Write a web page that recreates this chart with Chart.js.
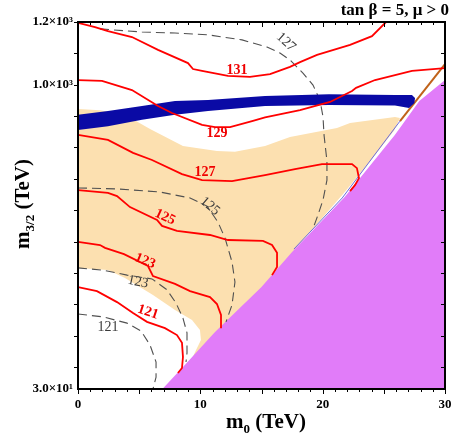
<!DOCTYPE html>
<html><head><meta charset="utf-8">
<script src="https://cdn.jsdelivr.net/npm/chart.js@4.4.1/dist/chart.umd.min.js"></script>
<style>html,body{margin:0;padding:0;background:#fff;}#wrap{width:453px;height:436px;}</style>
</head><body><div id="wrap"><canvas id="c" width="453" height="436"></canvas></div>
<script>
// ---- axis ticks ----
const xTickValues = [0, 10, 20, 30];
const xTickLabels = ['0', '10', '20', '30'];
const yTickValues = [30, 1000, 1200];
const yTickLabels = ['3.0×10¹', '1.0×10³', '1.2×10³'];
const yTickMarks = [100, 200, 300, 400, 500, 600, 700, 800, 900, 1000, 1100, 1200];

// ---- regions (m0 [TeV], m3/2) ----
const pinkEdge = [[6.9,30],[8.75,107],[11.2,212],[15.0,355],[17.5,467],[21.8,642],[25.9,840],[27.9,948],[30,1015],[30,30]];
const orangeRegion = [[0,923],[1.8,919],[3.84,904],[5.89,859],[8.58,805],[11.36,789],[12.83,786],[15.29,805],[17.33,833],[21.17,862],[22.24,878],[25.91,897],[26.32,894],[25.83,853],[23.95,760],[21.74,655],[17.98,486],[16.51,409],[9.97,30],[0,30]];
const whiteRegion = [[0,416],[2.45,409],[3.84,384],[6.13,330],[7.93,282],[9.32,250],[9.97,218],[10.05,186],[9.65,154],[9.2,116],[7.93,30],[0,30]];
const blueBand = [[0,904],[2.45,916],[5.23,932],[7.93,948],[10.63,951],[15.29,964],[20.52,970],[25.91,967],[27.3,967],[27.55,958],[27.5,942],[27.06,926],[25.91,934],[20.52,935],[15.29,932],[10.63,916],[7.93,904],[5.23,888],[2.45,868],[0,856]];
const brownLine = [[26.32,884],[30,1066]];
const thinBlue = [[26.32,884],[21.6,639],[17.65,476]];

// ---- red contours ----
const red131 = [[0,1197],[1.39,1184],[2.45,1171],[4.41,1152],[6.54,1111],[8.99,1069],[9.40,1050],[10.14,1044],[12.26,1028],[14.06,1025],[15.70,1034],[17.33,1057],[18.15,1072],[19.54,1095],[22.24,1127],[24.03,1155],[25.18,1200]];
const red129 = [[0,1015],[1.96,1012],[4.41,983],[6.54,932],[7.68,910],[10.14,872],[11.2,865],[12.43,865],[14.23,884],[15.29,896],[18.15,919],[20.6,945],[22.4,980],[22.73,990],[24.28,1015],[27.3,1044],[30,1053]];
const red127 = [[0,840],[2.45,824],[4.5,783],[6.05,760],[8.5,715],[10.14,696],[12.59,693],[15.29,712],[17.74,731],[19.95,747],[22.4,747],[22.8,734],[22.97,702],[22.64,680],[22.24,661]];
const red125 = [[0,664],[2.45,655],[3.19,645],[4.25,610],[6.46,569],[6.87,550],[8.09,534],[10.79,521],[12.26,505],[15.12,502],[15.86,489],[16.27,464],[16.27,419],[15.86,393]];
const red123 = [[0,499],[1.80,489],[2.21,480],[3.76,460],[5.72,422],[6.13,390],[7.93,365],[9.16,342],[10.79,323],[11.36,301],[11.69,266],[11.69,224]];
const red121 = [[0,355],[1.55,342],[3.19,307],[4.50,272],[5.64,244],[7.11,224],[8.09,202],[8.50,177],[8.58,132],[8.50,97],[8.17,81]];

// ---- gray dashed contours ----
const gray127 = [[1.80,1178],[5.23,1168],[7.93,1165],[10.63,1159],[13.41,1143],[15.45,1120],[16.51,1101],[17.33,1079],[18.39,1037],[19.21,999],[19.78,951],[20.03,897],[20.11,840],[20.35,757],[20.35,696],[20.03,633],[19.62,585],[19.29,550]];
const gray125 = [[0,671],[3.19,668],[6.70,658],[9.16,639],[10.55,613],[11.44,562],[12.02,511],[12.59,435],[12.83,371],[12.59,298],[12.10,244]];
const gray123 = [[0,416],[2.04,409],[4.01,393],[6.05,381],[7.28,346],[8.01,304],[8.58,256],[8.91,209],[8.91,145],[8.83,116]];
const gray121 = [[0,269],[2.04,260],[4.01,240],[5.15,215],[5.89,170],[6.38,116],[6.38,68],[6.13,30]];

const contourLabels = [
  {text:'131', x:13.0, y:1047, angle:0, kind:'red'},
  {text:'129', x:11.36, y:846, angle:0, kind:'red'},
  {text:'127', x:10.38, y:722, angle:0, kind:'red'},
  {text:'125', x:7.11, y:578, angle:25, kind:'red'},
  {text:'123', x:5.48, y:438, angle:22, kind:'red'},
  {text:'121', x:5.72, y:275, angle:18, kind:'red'},
  {text:'127', x:17.0, y:1136, angle:42, kind:'gray'},
  {text:'125', x:10.79, y:613, angle:40, kind:'gray'},
  {text:'123', x:4.90, y:371, angle:12, kind:'gray'},
  {text:'121', x:2.45, y:228, angle:0, kind:'gray'}
];

const pts = a => a.map(p => ({x:p[0], y:p[1]}));
const SERIF = '"Liberation Serif", "Times New Roman", serif';

function lineDs(arr, color, width, dash) {
  return {data: pts(arr), showLine:true, borderColor:color, borderWidth:width, borderDash:dash||[], fill:false, pointRadius:0, clip:0};
}
function polyDs(arr, color) {
  return {data: pts(arr), showLine:true, borderColor:'transparent', borderWidth:0, backgroundColor:color, fill:'shape', pointRadius:0, clip:0};
}

const RED = '#ff0000', GRAY = '#505050';
const datasets = [
  lineDs(red131, RED, 1.8), lineDs(red129, RED, 1.8), lineDs(red127, RED, 1.8),
  lineDs(red125, RED, 1.8), lineDs(red123, RED, 1.8), lineDs(red121, RED, 1.8),
  polyDs(blueBand, '#0a0aa5'),
  lineDs(gray127, GRAY, 1.1, [9,5]), lineDs(gray125, GRAY, 1.1, [9,5]),
  lineDs(gray123, GRAY, 1.1, [9,5]), lineDs(gray121, GRAY, 1.1, [9,5]),
  lineDs(brownLine, '#c0621a', 2),
  lineDs(thinBlue, '#6a6ad8', 1),
  polyDs(pinkEdge, '#e17cf9'),
  polyDs(whiteRegion, '#ffffff'),
  polyDs(orangeRegion, '#fce0b0')
];

function drawSub(ctx, parts, x, y) {
  let w = 0;
  for (const p of parts) { ctx.font = 'bold ' + p[1] + 'px ' + SERIF; w += ctx.measureText(p[0]).width; }
  let cx = x - w/2;
  for (const p of parts) {
    ctx.font = 'bold ' + p[1] + 'px ' + SERIF;
    ctx.fillText(p[0], cx, y + p[2]);
    cx += ctx.measureText(p[0]).width;
  }
}

const decor = {
  id: 'decor',
  afterDraw(chart) {
    const ctx = chart.ctx, xs = chart.scales.x, ys = chart.scales.y, a = chart.chartArea;
    ctx.save();
    // contour labels
    ctx.textAlign = 'center'; ctx.textBaseline = 'middle';
    for (const l of contourLabels) {
      const px = xs.getPixelForValue(l.x), py = ys.getPixelForValue(l.y);
      ctx.save();
      ctx.translate(px, py); ctx.rotate(l.angle*Math.PI/180);
      if (l.kind === 'red') { ctx.fillStyle = '#f00000'; ctx.font = 'bold 14px ' + SERIF; }
      else { ctx.fillStyle = '#3a3a3a'; ctx.font = '14px ' + SERIF; }
      ctx.fillText(l.text, 0, 0);
      ctx.restore();
    }
    // tick marks
    ctx.strokeStyle = '#000'; ctx.lineWidth = 1;
    ctx.beginPath();
    for (let v = 0; v <= 30; v++) {
      const px = Math.round(xs.getPixelForValue(v)) + 0.5;
      const len = (v % 5 === 0) ? 5 : 3;
      ctx.moveTo(px, a.bottom); ctx.lineTo(px, a.bottom + len);
      ctx.moveTo(px, a.top); ctx.lineTo(px, a.top + len);
    }
    for (const v of yTickMarks) {
      const py = Math.round(ys.getPixelForValue(v)) + 0.5;
      ctx.moveTo(a.left - 4, py); ctx.lineTo(a.left, py);
      ctx.moveTo(a.right - 4, py); ctx.lineTo(a.right, py);
    }
    ctx.stroke();
    // frame
    ctx.lineWidth = 2;
    ctx.strokeRect(a.left, a.top, a.right - a.left, a.bottom - a.top);
    // tick labels
    ctx.fillStyle = '#000';
    ctx.font = 'bold 13px ' + SERIF;
    ctx.textAlign = 'center'; ctx.textBaseline = 'middle';
    xTickValues.forEach((v, i) => ctx.fillText(xTickLabels[i], xs.getPixelForValue(v), 405));
    ctx.textAlign = 'right';
    yTickValues.forEach((v, i) => ctx.fillText(yTickLabels[i], a.left - 5, ys.getPixelForValue(v)));
    // titles
    ctx.textAlign = 'left'; ctx.textBaseline = 'alphabetic';
    drawSub(ctx, [['m',21,0],['0',13,5],[' (TeV)',21,0]], 266, 428);
    ctx.save();
    ctx.translate(29, 204); ctx.rotate(-Math.PI/2);
    drawSub(ctx, [['m',21,0],['3/2',13,5],[' (TeV)',21,0]], 0, 0);
    ctx.restore();
    ctx.font = 'bold 17px ' + SERIF; ctx.textAlign = 'right';
    ctx.fillText('tan β = 5, μ > 0', 449, 15);
    ctx.restore();
  }
};

new Chart(document.getElementById('c'), {
  type: 'scatter',
  data: {datasets},
  options: {
    responsive: false, animation: false, devicePixelRatio: 1,
    layout: {padding: {top: 22, right: 8, left: 0, bottom: 0}},
    plugins: {legend: {display: false}, tooltip: {enabled: false}, title: {display: false}},
    elements: {point: {radius: 0}, line: {tension: 0}},
    scales: {
      x: {
        type: 'linear', min: 0, max: 30,
        grid: {display: false, drawTicks: false}, border: {display: false},
        ticks: {display: false},
        afterFit: s => { s.height = 47; }
      },
      y: {
        type: 'linear', min: 30, max: 1200,
        grid: {display: false, drawTicks: false}, border: {display: false},
        ticks: {display: false},
        afterFit: s => { s.width = 78; }
      }
    }
  },
  plugins: [decor]
});
</script></body></html>
